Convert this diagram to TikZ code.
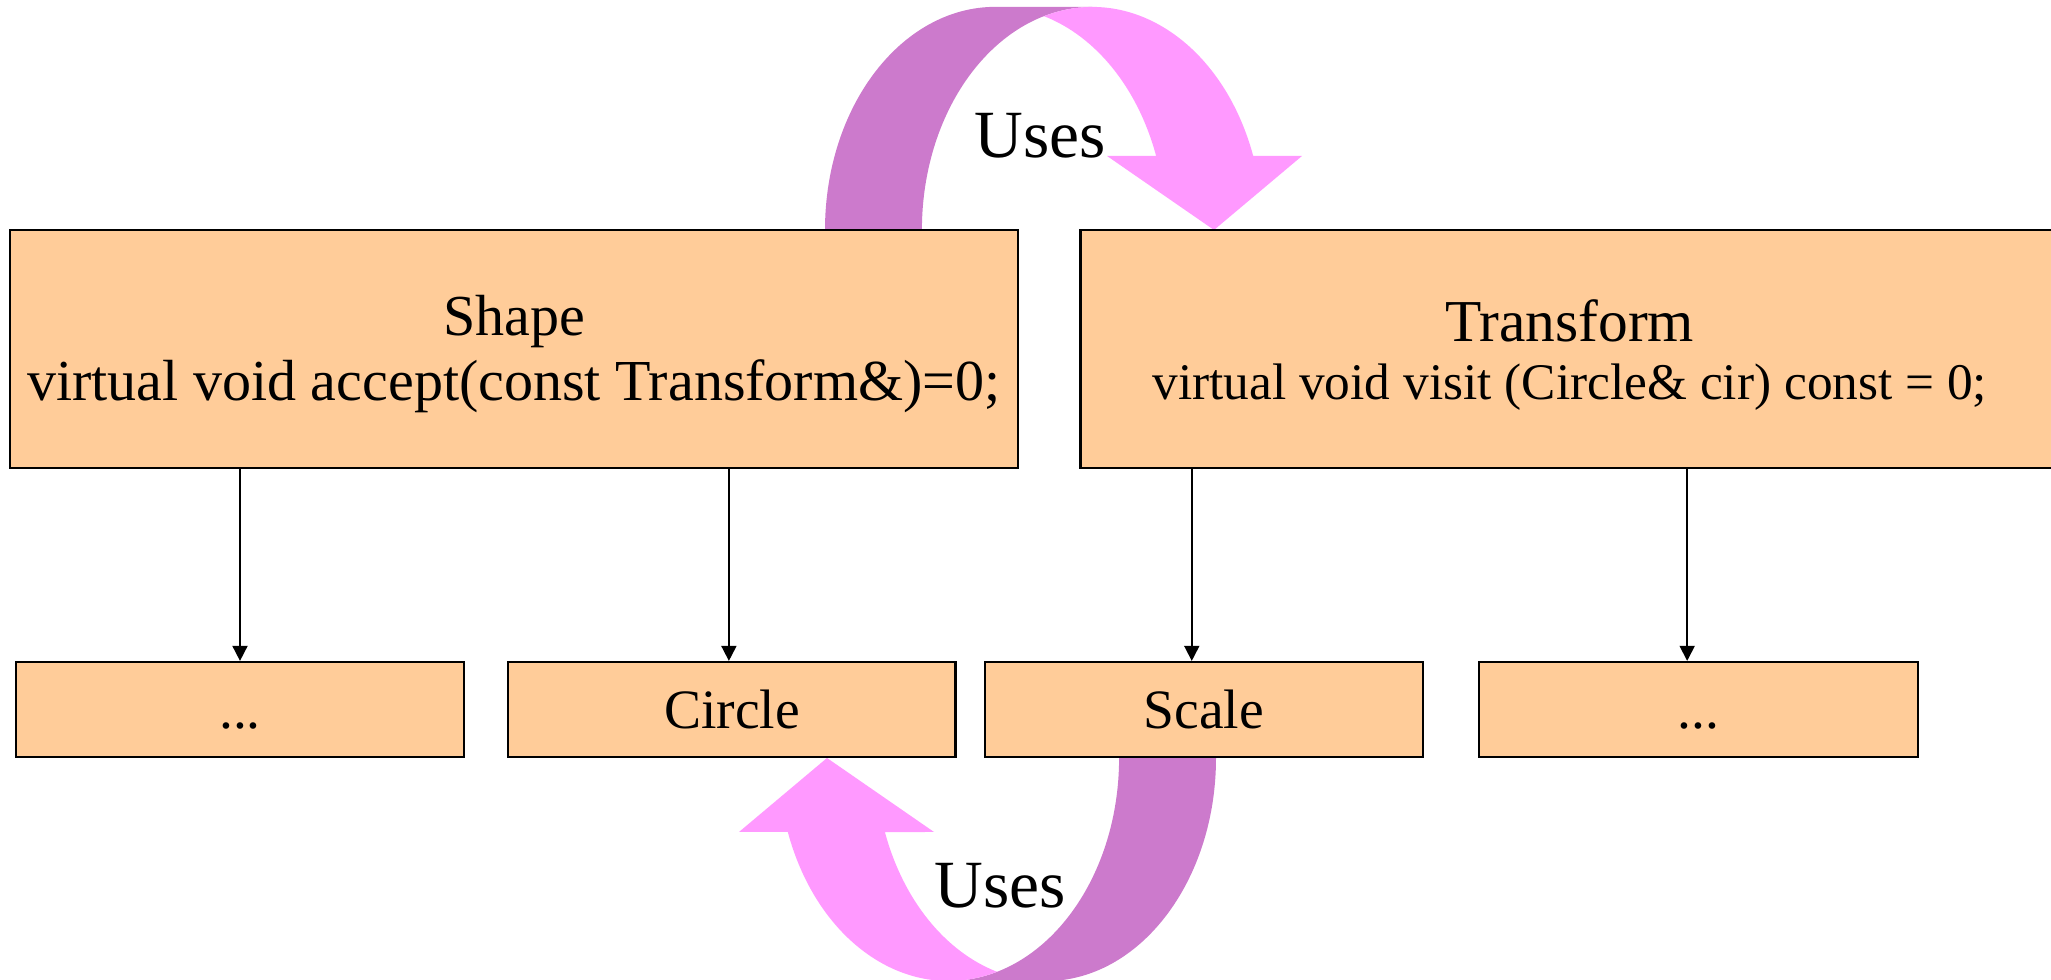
\documentclass[tikz,border=0pt]{standalone}
\usepackage{fontspec}
\setmainfont{Liberation Serif}
\usetikzlibrary{positioning,arrows.meta}
\definecolor{peach}{RGB}{255,204,153}
\definecolor{pinkarrow}{RGB}{255,153,255}
\definecolor{purplearrow}{RGB}{204,122,204}
\tikzset{%
  block/.style    = {draw, line width=0.6pt, rectangle, fill=peach, inner sep=0pt},
  topblock/.style = {block, minimum height=2.38cm, align=center},
  subblock/.style = {block, minimum height=0.95cm, text height=11pt, text depth=0pt,
    font=\fontsize{15.8}{18}\selectfont},
  uses/.style     = {anchor=base, font=\fontsize{19.2}{23}\selectfont}
}
% curved "Uses" arrow, drawn once and turned round for the second one
\newcommand{\usesarrow}{%
  \fill[purplearrow] (825,750) arc[start angle=180, end angle=90, x radius=1.704cm, y radius=2.23cm]
    -- (1092.4,973) arc[start angle=90, end angle=180, x radius=1.704cm, y radius=2.23cm] -- cycle;
  \fill[pinkarrow] (1043.7,963.7) arc[start angle=106.6, end angle=19.4, x radius=1.704cm, y radius=2.23cm]
    -- (1302,824) -- (1214,750) -- (1107,824) -- (1156.1,824.1)
    arc[start angle=19.4, end angle=73.4, x radius=1.704cm, y radius=2.23cm] -- cycle;
}
\begin{document}
\begin{tikzpicture}[x=0.01cm, y=0.01cm, >={Triangle[length=4.3pt, width=4.3pt]}, line width=0.5pt]
  \useasboundingbox (0,0) rectangle (2051,980);

  \usesarrow
  \begin{scope}[rotate around={180:(1020.5,486)}]
    \usesarrow
  \end{scope}

  \node[topblock, minimum width=10.08cm, font=\fontsize{16.5}{18.5}\selectfont] at (514,631) (shape)
    {\rule{0pt}{14.5pt}Shape\\virtual void accept(const Transform\&)=0;};
  \node[topblock, minimum width=9.78cm, right=0.6cm of shape] (transform)
    {\fontsize{16.9}{17}\selectfont\rule{0pt}{15.5pt}Transform\\[4.5pt]
     \fontsize{14.6}{16.8}\selectfont virtual void visit (Circle\& cir) const = 0;};

  \node[subblock, minimum width=4.48cm] at (240,270.5) (dotsA) {...};
  \node[subblock, minimum width=4.47cm, right=0.42cm of dotsA] (circle) {Circle};
  \node[subblock, minimum width=4.38cm, right=0.27cm of circle] (scale) {Scale};
  \node[subblock, minimum width=4.39cm, right=0.54cm of scale] (dotsB) {...};

  \node[uses] at (1040,822) (usestop) {Uses};
  \node[uses] at (1000,72) (usesbottom) {Uses};

  \draw[->] (dotsA.north |- shape.south) -- (dotsA.north);
  \draw[->] ([xshift=-0.03cm]circle.north |- shape.south) -- ([xshift=-0.03cm]circle.north);
  \draw[->] ([xshift=-0.12cm]scale.north |- transform.south) -- ([xshift=-0.12cm]scale.north);
  \draw[->] ([xshift=-0.115cm]dotsB.north |- transform.south) -- ([xshift=-0.115cm]dotsB.north);
\end{tikzpicture}
\end{document}
